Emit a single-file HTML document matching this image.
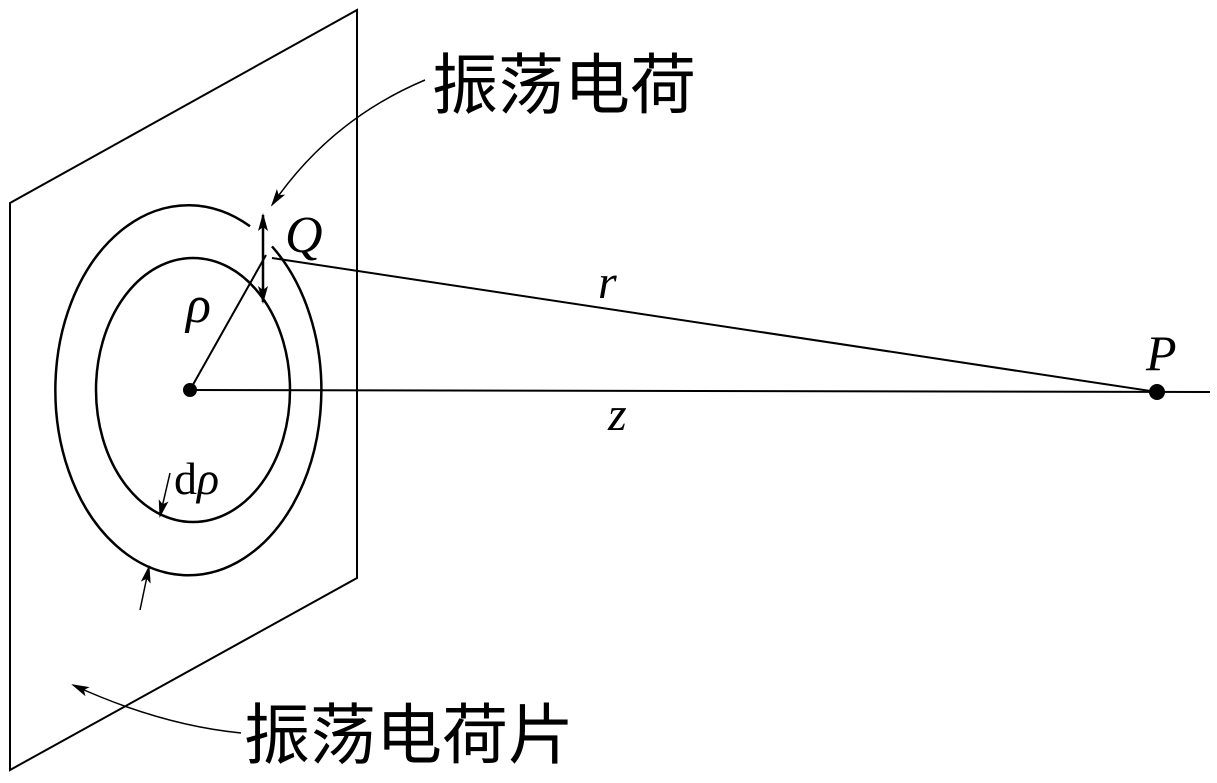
<!DOCTYPE html>
<html><head><meta charset="utf-8"><style>
html,body{margin:0;padding:0;background:#fff;}
svg{display:block;}
.t{font-family:"Liberation Serif","Noto Serif CJK SC",serif;font-style:italic;fill:#000;}
.c{font-family:"Liberation Sans","Noto Sans CJK SC",sans-serif;fill:#000;}
</style></head><body>
<svg width="1217" height="783" viewBox="0 0 1217 783" xmlns="http://www.w3.org/2000/svg">
<defs>
<marker id="b" markerWidth="18" markerHeight="12" refX="16" refY="6" orient="auto" markerUnits="userSpaceOnUse"><path d="M0,1 L18,6 L0,11 L4,6 z" fill="#000"/></marker></defs>
<g fill="none" stroke="#000" stroke-width="2">
<path d="M357,10 L10,203 L10,770 L357,578 Z"/>
<ellipse cx="193" cy="390" rx="97" ry="132" stroke-width="2.5"/>
<path d="M250,226.3 A133,185 0 1 0 272,246.4" stroke-width="2.5"/>
<line x1="190" y1="390" x2="1210" y2="392"/>
<line x1="272" y1="258" x2="1157" y2="392"/>
<line x1="190" y1="390" x2="266" y2="255"/>
<line x1="263" y1="258" x2="263" y2="215" marker-end="url(#b)" stroke-width="2.5"/>
<line x1="263" y1="258" x2="263" y2="302" marker-end="url(#b)" stroke-width="2.5"/>
<path d="M425,80 Q330,120 272,205" marker-end="url(#b)" stroke-width="1.5"/>
<path d="M241,733 Q160,725 73,685" marker-end="url(#b)" stroke-width="1.5"/>
<line x1="170" y1="473" x2="160" y2="516" marker-end="url(#b)" stroke-width="1.5"/>
<line x1="140" y1="610" x2="149" y2="567" marker-end="url(#b)" stroke-width="1.5"/>
</g>
<circle cx="190" cy="390" r="7" fill="#000"/>
<circle cx="1157" cy="392" r="8" fill="#000"/>
<text class="t" x="285" y="252" font-size="52">Q</text>
<text class="t" x="186" y="322" font-size="52">ρ</text>
<text class="t" x="598" y="298" font-size="48">r</text>
<text class="t" x="608" y="430" font-size="48">z</text>
<text class="t" x="1146" y="370" font-size="50">P</text>
<text class="t" x="174" y="494" font-size="46"><tspan font-style="normal">d</tspan>ρ</text>
<text class="c" x="432" y="108" font-size="66">振荡电荷</text>
<text class="c" x="244" y="758" font-size="66">振荡电荷片</text>
</svg>
</body></html>
